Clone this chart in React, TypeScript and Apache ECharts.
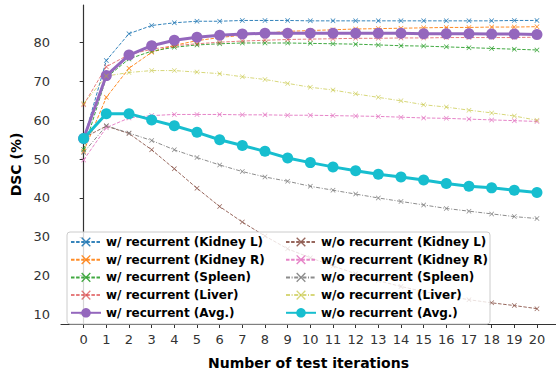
import React, { useEffect, useRef } from "react";
import * as echarts from "echarts";

const iterations = [0, 1, 2, 3, 4, 5, 6, 7, 8, 9, 10, 11, 12, 13, 14, 15, 16, 17, 18, 19, 20];
const yTicks = [10, 20, 30, 40, 50, 60, 70, 80];

const wKidneyL = [55.0, 75.4, 82.3, 84.4, 85.1, 85.5, 85.5, 85.7, 85.7, 85.7, 85.6, 85.6, 85.6, 85.6, 85.6, 85.6, 85.6, 85.6, 85.6, 85.7, 85.7];
const wKidneyR = [52.0, 65.9, 73.4, 77.5, 79.3, 80.5, 81.3, 81.9, 82.4, 82.9, 83.1, 83.3, 83.5, 83.6, 83.7, 83.8, 83.9, 83.9, 84.0, 84.0, 84.1];
const wSpleen = [52.5, 71.0, 75.8, 77.8, 78.8, 79.4, 79.7, 79.9, 79.9, 79.9, 79.8, 79.7, 79.6, 79.4, 79.2, 79.1, 78.9, 78.7, 78.5, 78.3, 78.1];
const wLiver = [64.0, 73.8, 76.9, 78.3, 79.2, 79.7, 80.1, 80.4, 80.6, 80.8, 80.9, 81.0, 81.1, 81.1, 81.2, 81.2, 81.3, 81.3, 81.3, 81.3, 81.4];
const wAvg = [55.3, 71.5, 76.8, 79.2, 80.6, 81.4, 81.9, 82.2, 82.4, 82.4, 82.4, 82.4, 82.4, 82.4, 82.4, 82.3, 82.3, 82.3, 82.2, 82.2, 82.1];

const woKidneyL = [55.5, 58.5, 56.6, 52.4, 47.5, 42.5, 37.8, 33.8, 30.2, 26.9, 24.6, 22.5, 20.5, 18.7, 17.2, 15.9, 14.8, 13.8, 13.0, 12.3, 11.5];
const woKidneyR = [49.8, 58.1, 60.6, 61.2, 61.5, 61.5, 61.5, 61.4, 61.4, 61.3, 61.3, 61.2, 61.1, 61.0, 60.8, 60.6, 60.5, 60.3, 60.1, 59.9, 59.7];
const woSpleen = [51.7, 58.6, 56.7, 54.8, 52.4, 50.4, 48.5, 46.8, 45.4, 44.3, 43.0, 42.0, 41.0, 40.0, 39.1, 38.2, 37.3, 36.6, 35.9, 35.2, 34.7];
const woLiver = [64.3, 71.4, 72.3, 72.8, 72.8, 72.4, 72.0, 71.2, 70.5, 69.5, 68.5, 67.8, 66.8, 65.9, 65.0, 64.0, 63.4, 62.6, 61.9, 61.1, 60.0];
const woAvg = [55.3, 61.7, 61.7, 60.1, 58.6, 56.9, 55.0, 53.5, 52.0, 50.3, 49.1, 48.0, 47.0, 46.1, 45.4, 44.6, 43.7, 43.0, 42.6, 42.0, 41.4];

const wNames = [
  "w/ recurrent (Kidney L)",
  "w/ recurrent (Kidney R)",
  "w/ recurrent (Spleen)",
  "w/ recurrent (Liver)",
  "w/ recurrent (Avg.)",
];
const woNames = [
  "w/o recurrent (Kidney L)",
  "w/o recurrent (Kidney R)",
  "w/o recurrent (Spleen)",
  "w/o recurrent (Liver)",
  "w/o recurrent (Avg.)",
];
const colors = ["#1f77b4", "#ff7f0e", "#2ca02c", "#d62728", "#9467bd", "#8c564b", "#e377c2", "#7f7f7f", "#bcbd22", "#17becf"];
const allValues = [wKidneyL, wKidneyR, wSpleen, wLiver, wAvg, woKidneyL, woKidneyR, woSpleen, woLiver, woAvg];
const allNames = [...wNames, ...woNames];

const X_SYMBOL = "path://M0,1L1,0L5,4L9,0L10,1L6,5L10,9L9,10L5,6L1,10L0,9L4,5Z";

export default function App() {
  const ref = useRef<HTMLDivElement>(null);
  useEffect(() => {
    if (!ref.current) return;
    document.body.style.margin = "0";
    const chart = echarts.init(ref.current, undefined, { renderer: "svg" });
    const series = allValues.map((vals, i) => {
      const isAvg = i === 4 || i === 9;
      const isLiver = i === 3 || i === 8;
      const dashDot = i === 7 || i === 8;
      const c = colors[i];
      return {
        type: "line",
        name: allNames[i],
        data: vals.map((v, k) => [iterations[k], v]),
        symbol: isAvg ? "circle" : X_SYMBOL,
        symbolSize: isAvg ? 11 : 5,
        showSymbol: true,
        itemStyle: { color: c, opacity: isAvg ? 1 : isLiver ? 0.6 : 0.9 },
        lineStyle: {
          color: c,
          width: isAvg ? 3 : 1,
          type: isAvg ? "solid" : dashDot ? [4, 1.6, 1, 1.6] : [3.5, 1.6],
          opacity: isAvg ? 1 : isLiver ? 0.6 : 0.9,
        },
        z: 2,
      };
    });
    const legendCommon = {
      orient: "vertical",
      padding: 0,
      itemWidth: 30,
      itemHeight: 12,
      itemGap: 5.7,
      textStyle: {
        fontFamily: "DejaVu Sans",
        fontWeight: "bold",
        fontSize: 12,
        color: "#000",
        lineHeight: 12,
      },
      z: 5,
    };
    chart.setOption({
      animation: false,
      backgroundColor: "#fff",
      grid: { left: 61, right: 0, top: 5, bottom: 45 },
      xAxis: {
        type: "value",
        min: -1,
        max: 20.84,
        name: "Number of test iterations",
        nameLocation: "middle",
        nameGap: 32,
        nameTextStyle: { fontFamily: "DejaVu Sans", fontWeight: "bold", fontSize: 14, color: "#000" },
        axisLine: { show: true, lineStyle: { color: "#333", width: 1.2 } },
        axisTick: { show: true, length: 4, lineStyle: { color: "#333" }, customValues: iterations },
        axisLabel: { fontFamily: "DejaVu Sans", fontSize: 13, color: "#333", margin: 9, customValues: iterations },
        splitLine: { show: false },
      },
      yAxis: {
        type: "value",
        min: 7.55,
        max: 89.68,
        name: "DSC (%)",
        nameLocation: "middle",
        nameGap: 38,
        nameTextStyle: { fontFamily: "DejaVu Sans", fontWeight: "bold", fontSize: 14, color: "#000" },
        axisLine: { show: true, lineStyle: { color: "#333", width: 1.2 } },
        axisTick: { show: true, length: 4, lineStyle: { color: "#333" }, customValues: yTicks },
        axisLabel: { fontFamily: "DejaVu Sans", fontSize: 13, color: "#333", margin: 11, customValues: yTicks },
        splitLine: { show: false },
      },
      legend: [
        { ...legendCommon, left: 70, top: 236, data: wNames },
        { ...legendCommon, left: 285, top: 236, data: woNames },
      ],
      graphic: [
        {
          type: "rect",
          z: 4,
          shape: { x: 67, y: 232, width: 423, height: 92, r: 3 },
          style: { fill: "rgba(255,255,255,0.8)", stroke: "#cccccc", lineWidth: 1 },
        },
      ],
      series,
    });
    return () => chart.dispose();
  }, []);
  return <div ref={ref} style={{ width: 556, height: 375 }} />;
}
